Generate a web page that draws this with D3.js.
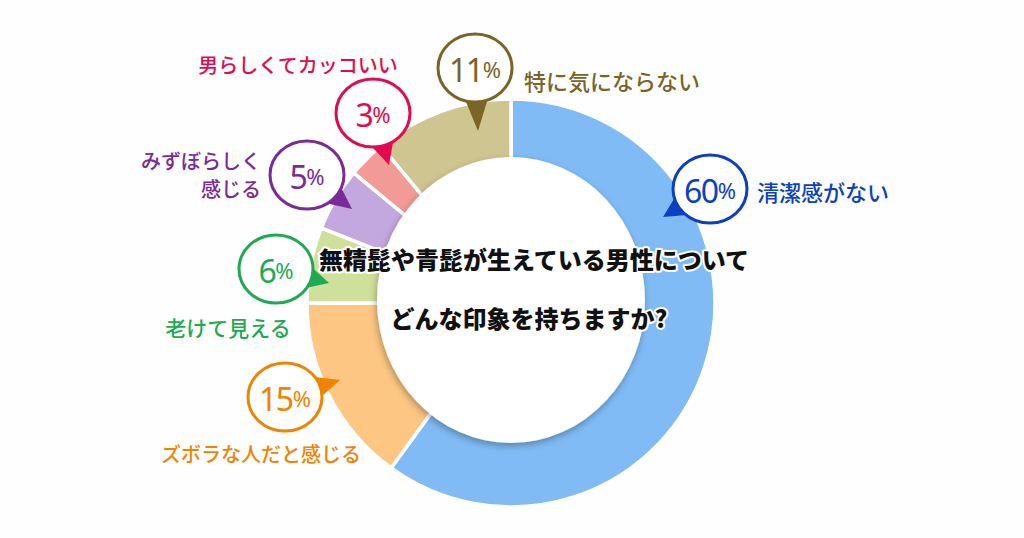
<!DOCTYPE html>
<html lang="ja">
<head>
<meta charset="utf-8">
<script src="https://cdn.jsdelivr.net/npm/d3@7"></script>
<style>
  html, body { margin: 0; padding: 0; background: #fff; }
  svg { display: block; }
</style>
</head>
<body>
<div id="chart"></div>
<script>
// 回答データ（時計回り、上から）
const categories = ["清潔感がない", "ズボラな人だと感じる", "老けて見える", "みずぼらしく感じる", "男らしくてカッコいい", "特に気にならない"];
const values = [60, 15, 6, 5, 3, 11];
const sliceColors = ["#80bbf5", "#fdc682", "#cfe09b", "#c3a8e0", "#f29a95", "#cfc591"];
const labelColors = ["#0b3fc4", "#f08300", "#1eaa52", "#7b2a99", "#e50a4f", "#7a6426"];
const titleLines = ["無精髭や青髭が生えている男性について", "どんな印象を持ちますか?"];

// 吹き出しの配置（中心, 矢印の先, ラベル）
const callouts = [
  { cx: 710, cy: 189, tx: 663, ty: 217, lines: ["清潔感がない"], lx: 757, ly: 191, anchor: "start", fs: 22 },
  { cx: 285, cy: 397, tx: 340, ty: 380, lines: ["ズボラな人だと感じる"], lx: 261, ly: 453, anchor: "middle", fs: 20 },
  { cx: 276, cy: 269, tx: 329, ty: 283, lines: ["老けて見える"], lx: 228, ly: 327, anchor: "middle", fs: 21 },
  { cx: 307, cy: 175, tx: 352, ty: 209, lines: ["みずぼらしく", "感じる"], lx: 261, ly: 160, anchor: "end", fs: 20 },
  { cx: 373, cy: 113, tx: 389, ty: 165, lines: ["男らしくてカッコいい"], lx: 298, ly: 64, anchor: "middle", fs: 20 },
  { cx: 475, cy: 68, tx: 478, ty: 131, lines: ["特に気にならない"], lx: 524, ly: 80, anchor: "start", fs: 22 }
];

const width = 1024, height = 538;
const cx = 511, cy = 303, outerR = 204, innerR = 128;

const svg = d3.select("#chart").append("svg")
  .attr("width", width)
  .attr("height", height);

svg.append("rect").attr("width", width).attr("height", height).attr("fill", "#fefefe");

const defs = svg.append("defs");
const f = defs.append("filter").attr("id", "shadow")
  .attr("x", "-20%").attr("y", "-20%").attr("width", "140%").attr("height", "140%");
f.append("feDropShadow")
  .attr("dx", -1).attr("dy", 3)
  .attr("stdDeviation", 3.5)
  .attr("flood-color", "#000")
  .attr("flood-opacity", 0.3);

const pie = d3.pie().sort(null).value(d => d)
  .startAngle(0).endAngle(2 * Math.PI);
const arc = d3.arc().innerRadius(innerR).outerRadius(outerR);

const g = svg.append("g").attr("transform", `translate(${cx},${cy})`);
g.selectAll("path")
  .data(pie(values))
  .enter()
  .append("path")
  .attr("d", arc)
  .attr("fill", (d, i) => sliceColors[i])
  .attr("stroke", "#fff")
  .attr("stroke-width", 3.5)
  .attr("stroke-linejoin", "miter");

// 中央の白い円
svg.append("ellipse")
  .attr("cx", cx).attr("cy", cy - 3)
  .attr("rx", 134).attr("ry", 143)
  .attr("fill", "#fff")
  .attr("filter", "url(#shadow)");

// 質問文
const title = svg.append("g")
  .attr("font-family", "'Noto Sans CJK JP', sans-serif")
  .attr("font-weight", 900)
  .attr("font-size", 24)
  .attr("fill", "#111")
  .attr("text-anchor", "middle");
[[534, 258], [529, 317]].forEach((p, i) => {
  title.append("text")
    .attr("x", p[0]).attr("y", p[1])
    .attr("dominant-baseline", "central")
    .attr("stroke", "#fff").attr("stroke-width", 4)
    .attr("paint-order", "stroke")
    .attr("stroke-linejoin", "round")
    .text(titleLines[i]);
});

// 吹き出し
const rx = 37, ry = 34;
callouts.forEach((c, i) => {
  const col = labelColors[i];
  const cg = svg.append("g");
  const a = Math.atan2((c.ty - c.cy) / ry, (c.tx - c.cx) / rx);
  const spread = 0.3;
  const p1 = [c.cx + rx * Math.cos(a - spread), c.cy + ry * Math.sin(a - spread)];
  const p2 = [c.cx + rx * Math.cos(a + spread), c.cy + ry * Math.sin(a + spread)];
  cg.append("path")
    .attr("d", `M${p1[0]},${p1[1]}L${c.tx},${c.ty}L${p2[0]},${p2[1]}Z`)
    .attr("fill", col);
  cg.append("ellipse")
    .attr("cx", c.cx).attr("cy", c.cy)
    .attr("rx", rx).attr("ry", ry)
    .attr("fill", "#fff")
    .attr("stroke", col)
    .attr("stroke-width", 3);
  const t = cg.append("text")
    .attr("x", c.cx).attr("y", c.cy + 1)
    .attr("text-anchor", "middle")
    .attr("dominant-baseline", "central")
    .attr("font-family", "'Noto Sans', 'Noto Sans CJK JP', sans-serif")
    .attr("font-weight", 400)
    .attr("fill", col);
  t.append("tspan").attr("font-size", 32).attr("letter-spacing", -1.5).text(values[i]);
  t.append("tspan").attr("font-size", 22).text("%");

  const lt = cg.append("text")
    .attr("text-anchor", c.anchor)
    .attr("font-family", "'Noto Sans CJK JP', sans-serif")
    .attr("font-weight", 500)
    .attr("font-size", c.fs)
    .attr("fill", col);
  c.lines.forEach((s, j) => {
    lt.append("tspan")
      .attr("x", c.lx)
      .attr("y", c.ly + j * 28)
      .attr("dominant-baseline", "central")
      .text(s);
  });
});
</script>
</body>
</html>
